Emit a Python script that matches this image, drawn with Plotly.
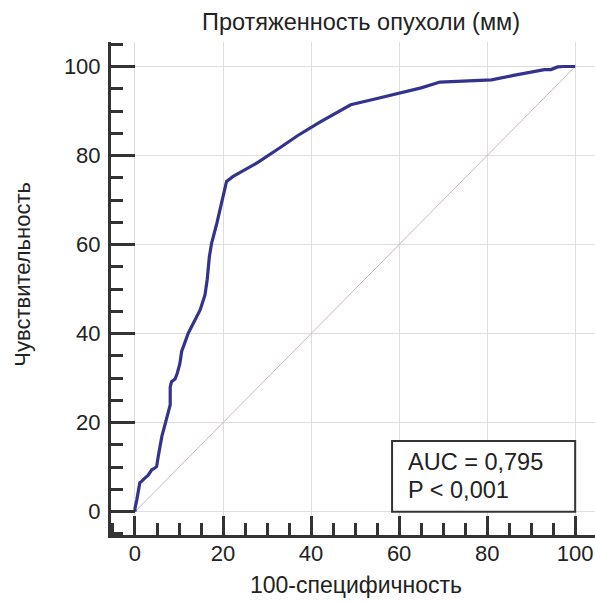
import plotly.graph_objects as go

# ROC curve data
fpr = [0, 0, 0.4, 0.75, 1.1, 1.5, 1.9, 2.3, 3.0, 3.8, 4.2, 4.9, 5.3, 6.1, 6.8, 7.6, 8.0, 8.0, 8.3, 9.1,
       9.6, 10.2, 10.6, 12.1, 14.8, 15.9, 16.4, 16.9, 17.4, 18.6, 19.9, 20.8, 22.3, 28, 33, 37, 42, 49,
       55, 60, 65, 69.3, 81, 86, 90.5, 93, 94.5, 96, 97.3, 100]
tpr = [0, 0.8, 2.6, 4.5, 6.5, 6.8, 7.3, 7.6, 8.2, 9.4, 9.6, 10.1, 12.5, 16.9, 19.5, 22.1, 24.0, 28.0, 29.2, 29.8,
       31.1, 33.3, 36.0, 40.1, 45.3, 48.7, 52.1, 57.3, 60.3, 64.8, 70.0, 74.2, 75.3, 78.5, 81.8, 84.5, 87.5, 91.4,
       92.8, 94, 95.2, 96.5, 97, 98, 98.9, 99.3, 99.3, 99.9, 100, 100]
diag = [0, 100]
tick_vals = [0, 20, 40, 60, 80, 100]

title_text = "Протяженность опухоли (мм)"
x_title = "100-специфичность"
y_title = "Чувствительность"
auc_line1 = "AUC = 0,795"
auc_line2 = "P < 0,001"

FONT = "Liberation Sans, Arial, sans-serif"
TXT = "#222222"

fig = go.Figure()
fig.add_trace(go.Scatter(x=diag, y=diag, mode="lines",
                         line=dict(color="#c9b9b9", width=1), hoverinfo="skip"))
fig.add_trace(go.Scatter(x=fpr, y=tpr, mode="lines",
                         line=dict(color="#33338f", width=3.2)))

axis_common = dict(
    tickvals=tick_vals, showgrid=True, gridcolor="#dedede", gridwidth=1,
    zeroline=False, showline=True, linecolor="#333333", linewidth=3,
    ticks="inside", tickwidth=3, tickcolor="#333333",
    tickfont=dict(family=FONT, size=22, color=TXT),
    minor=dict(dtick=5, ticks="inside", ticklen=12, tickwidth=3,
               tickcolor="#333333", showgrid=False),
)

fig.update_xaxes(range=[-5.45, 104.5], ticklen=19, ticklabelstandoff=-3, **axis_common)
fig.update_yaxes(range=[-5.24, 105.5], ticklen=24, ticklabelstandoff=3, **axis_common)

fig.add_shape(type="rect", xref="x", yref="y", x0=58.4, x1=100, y0=0, y1=15.9,
              line=dict(color="#333333", width=2), fillcolor="white", layer="above")
fig.add_annotation(x=61.6, y=11.2, xref="x", yref="y", text=auc_line1, showarrow=False,
                   xanchor="left", yanchor="middle", align="left",
                   font=dict(family=FONT, size=23.5, color=TXT))
fig.add_annotation(x=61.6, y=4.9, xref="x", yref="y", text=auc_line2, showarrow=False,
                   xanchor="left", yanchor="middle", align="left",
                   font=dict(family=FONT, size=23.5, color=TXT))

fig.add_annotation(x=0.517, y=1.0, xref="paper", yref="paper", yshift=20, text=title_text,
                   showarrow=False, xanchor="center", yanchor="middle",
                   font=dict(family=FONT, size=23.5, color=TXT))
fig.add_annotation(x=0.506, y=0, xref="paper", yref="paper", yshift=-50, text=x_title,
                   showarrow=False, xanchor="center", yanchor="middle",
                   font=dict(family=FONT, size=23, color=TXT))
fig.add_annotation(x=0, y=0.529, xref="paper", yref="paper", xshift=-88.5, text=y_title,
                   showarrow=False, xanchor="center", yanchor="middle", textangle=-90,
                   font=dict(family=FONT, size=22, color=TXT))

fig.update_layout(
    width=595, height=603, margin=dict(l=111, r=0, t=42, b=68),
    paper_bgcolor="white", plot_bgcolor="white", showlegend=False,
)

fig.write_html("out.html")
